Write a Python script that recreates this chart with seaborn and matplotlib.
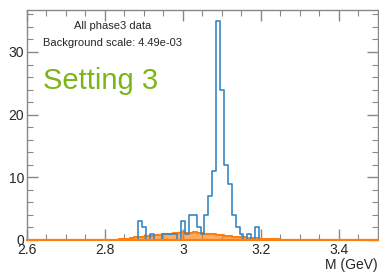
import numpy as np
import pandas as pd
import matplotlib
matplotlib.use("Agg")
import matplotlib.pyplot as plt
from matplotlib.ticker import MultipleLocator
import seaborn as sns

# signal (data) counts per 0.01 GeV bin, bin centres in GeV
sig_mass = [2.89, 2.90, 2.92, 2.95, 2.96, 2.97, 2.98, 3.00, 3.01, 3.02, 3.03,
            3.04, 3.05, 3.06, 3.07, 3.08, 3.09, 3.10, 3.11, 3.12, 3.13, 3.14,
            3.15, 3.17, 3.19]
sig_counts = [3, 2, 1, 1, 1, 1, 1, 3, 1, 4, 4,
              2, 1, 4, 7, 11, 35, 24, 12, 9, 4, 2,
              1, 1, 2]

# scaled background per bin
bkg_mass = [2.81, 2.82, 2.83, 2.84, 2.85, 2.86, 2.87, 2.88, 2.89, 2.90,
            2.91, 2.92, 2.93, 2.94, 2.95, 2.96, 2.97, 2.98, 2.99, 3.00,
            3.01, 3.02, 3.03, 3.04, 3.05, 3.06, 3.07, 3.08, 3.09, 3.10,
            3.11, 3.12, 3.13, 3.14, 3.15, 3.16, 3.17, 3.18, 3.19, 3.20,
            3.21, 3.22, 3.23, 3.24, 3.25, 3.26, 3.27, 3.28, 3.29, 3.30]
bkg_counts = [0.01, 0.03, 0.06, 0.10, 0.15, 0.22, 0.30, 0.40, 0.50, 0.55,
              0.62, 0.70, 0.78, 0.85, 0.90, 0.95, 1.00, 1.05, 1.10, 1.20,
              1.15, 1.10, 1.20, 1.10, 1.05, 1.00, 0.95, 0.88, 0.80, 0.75,
              0.70, 0.60, 0.55, 0.50, 0.45, 0.40, 0.35, 0.30, 0.25, 0.20,
              0.15, 0.12, 0.10, 0.08, 0.06, 0.04, 0.03, 0.02, 0.01, 0.01]

title_lines = ["All phase3 data", "Background scale: 4.49e-03"]
setting_label = "Setting 3"

edges = list(np.round(np.arange(2.595, 3.5051, 0.01), 3))

sig = pd.DataFrame({"M": sig_mass, "n": sig_counts})
bkg = pd.DataFrame({"M": bkg_mass, "n": bkg_counts})

sns.set_style("ticks")
plt.rcParams["font.family"] = ["Liberation Sans", "DejaVu Sans"]

fig = plt.figure(figsize=(3.79, 2.75), dpi=100)
ax = fig.add_axes([0.0712, 0.1273, 0.926, 0.8363])

sns.histplot(data=bkg, x="M", weights="n", bins=edges, element="step",
             fill=True, color="#ff7f0e", alpha=0.65, linewidth=1.5,
             edgecolor="#ff7f0e", ax=ax)
sns.histplot(data=sig, x="M", weights="n", bins=edges, element="step",
             fill=False, color="#3a87c4", linewidth=1.2, ax=ax)

ax.set_xlim(2.6, 3.5)
ax.set_ylim(0, 36.7)
ax.set_xlabel("M (GeV)", fontsize=10, loc="right", labelpad=1)
ax.set_ylabel("")

ax.xaxis.set_major_locator(MultipleLocator(0.2))
ax.xaxis.set_minor_locator(MultipleLocator(0.05))
ax.yaxis.set_major_locator(MultipleLocator(10))
ax.yaxis.set_minor_locator(MultipleLocator(2))
ax.set_xticks([2.6, 2.8, 3.0, 3.2, 3.4])
ax.set_xticklabels(["2.6", "2.8", "3", "3.2", "3.4"])

ax.tick_params(which="both", direction="in", top=True, right=True,
               color="#888888", labelsize=10, pad=2)
ax.tick_params(which="major", length=8, width=1)
ax.tick_params(which="minor", length=4, width=0.8)
for s in ax.spines.values():
    s.set_color("#888888")
    s.set_linewidth(1)
# background histogram line runs along the whole baseline
ax.spines["bottom"].set_color("#ff7f0e")
ax.spines["bottom"].set_linewidth(1.5)

ax.text(0.245, 0.93, title_lines[0], transform=ax.transAxes,
        ha="center", va="center", fontsize=8)
ax.text(0.245, 0.857, title_lines[1], transform=ax.transAxes,
        ha="center", va="center", fontsize=8)
ax.text(0.046, 0.69, setting_label, transform=ax.transAxes,
        ha="left", va="center", fontsize=21, color="#7cb518")

fig.savefig("out.png", dpi=100)
